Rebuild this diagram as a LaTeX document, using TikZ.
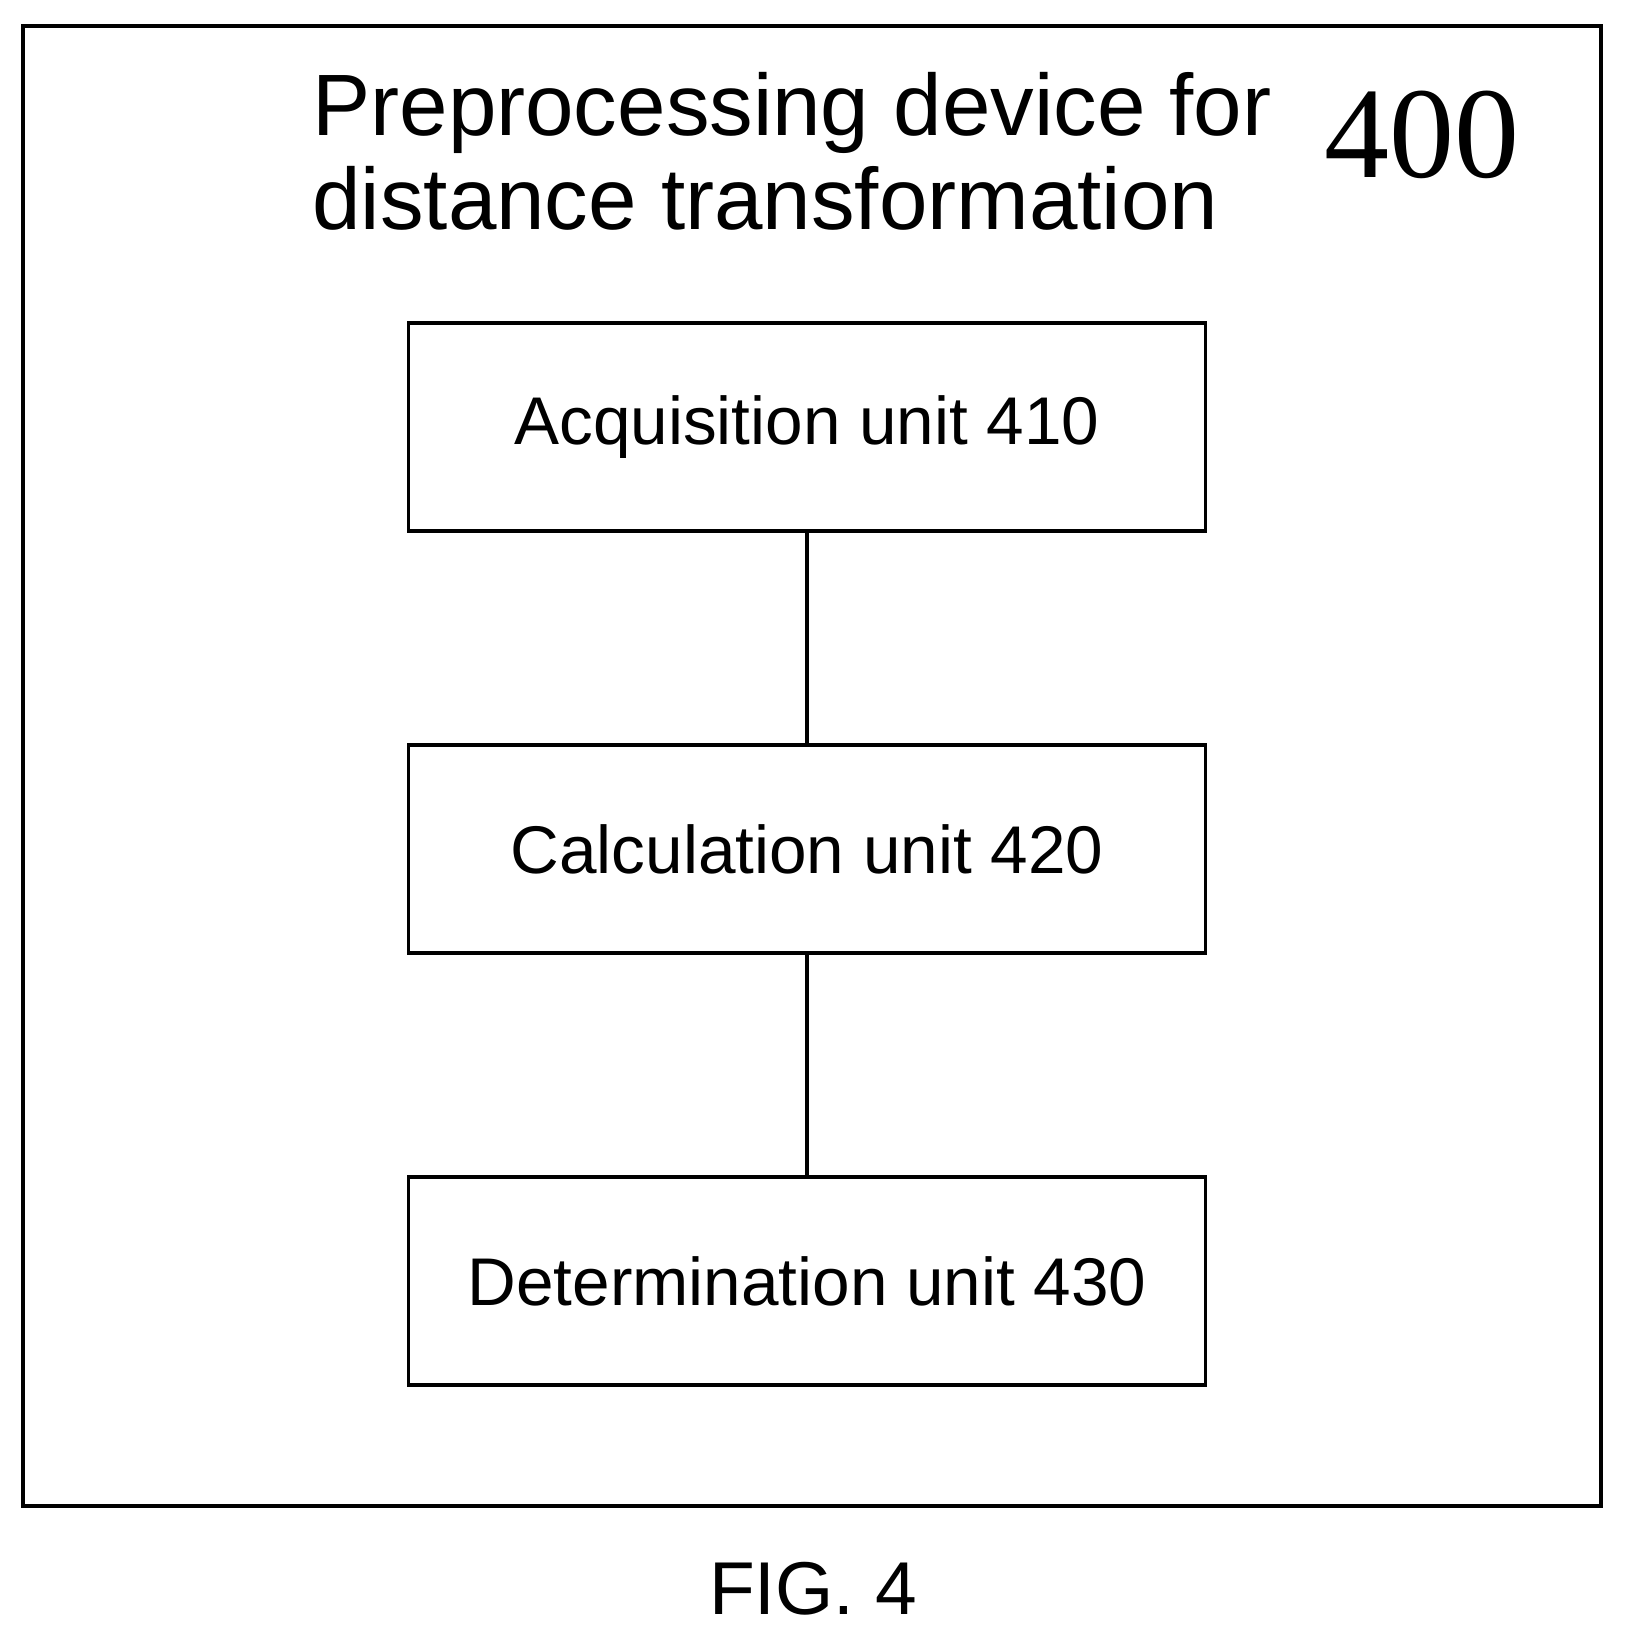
\documentclass[tikz,border=0pt]{standalone}
\usepackage{fontspec}
\setmainfont{Liberation Sans}
\newfontfamily\numfont{Liberation Serif}
\usetikzlibrary{positioning}

\tikzset{
  unit/.style={draw, line width=1pt, minimum width=7.97cm, minimum height=2.08cm,
    font=\fontsize{19.2}{22}\selectfont},
  link/.style={line width=1pt}
}

\begin{document}
\begin{tikzpicture}
\useasboundingbox (0,0) rectangle (16.25,16.35);

\draw [line width=1.3pt] (0.23,1.29) rectangle (16.01,16.09);

\node [align=left, font=\fontsize{24.8}{26.7}\selectfont] (title) at (7.92,14.84)
  {Preprocessing device for\\distance transformation};
\node [font=\numfont\fontsize{37}{40}\selectfont] (num) at (14.22,15.0) {400};

\node [unit] (acq) at (8.07,12.08) {Acquisition unit 410};
\node [unit] (calc) at (8.07,7.86) {Calculation unit 420};
\node [unit] (det) at (8.07,3.54) {Determination unit 430};

\draw [link] (acq) -- (calc);
\draw [link] (calc) -- (det);

\node [font=\fontsize{21.3}{24}\selectfont] (fig) at (8.13,0.46) {FIG. 4};

\end{tikzpicture}
\end{document}
